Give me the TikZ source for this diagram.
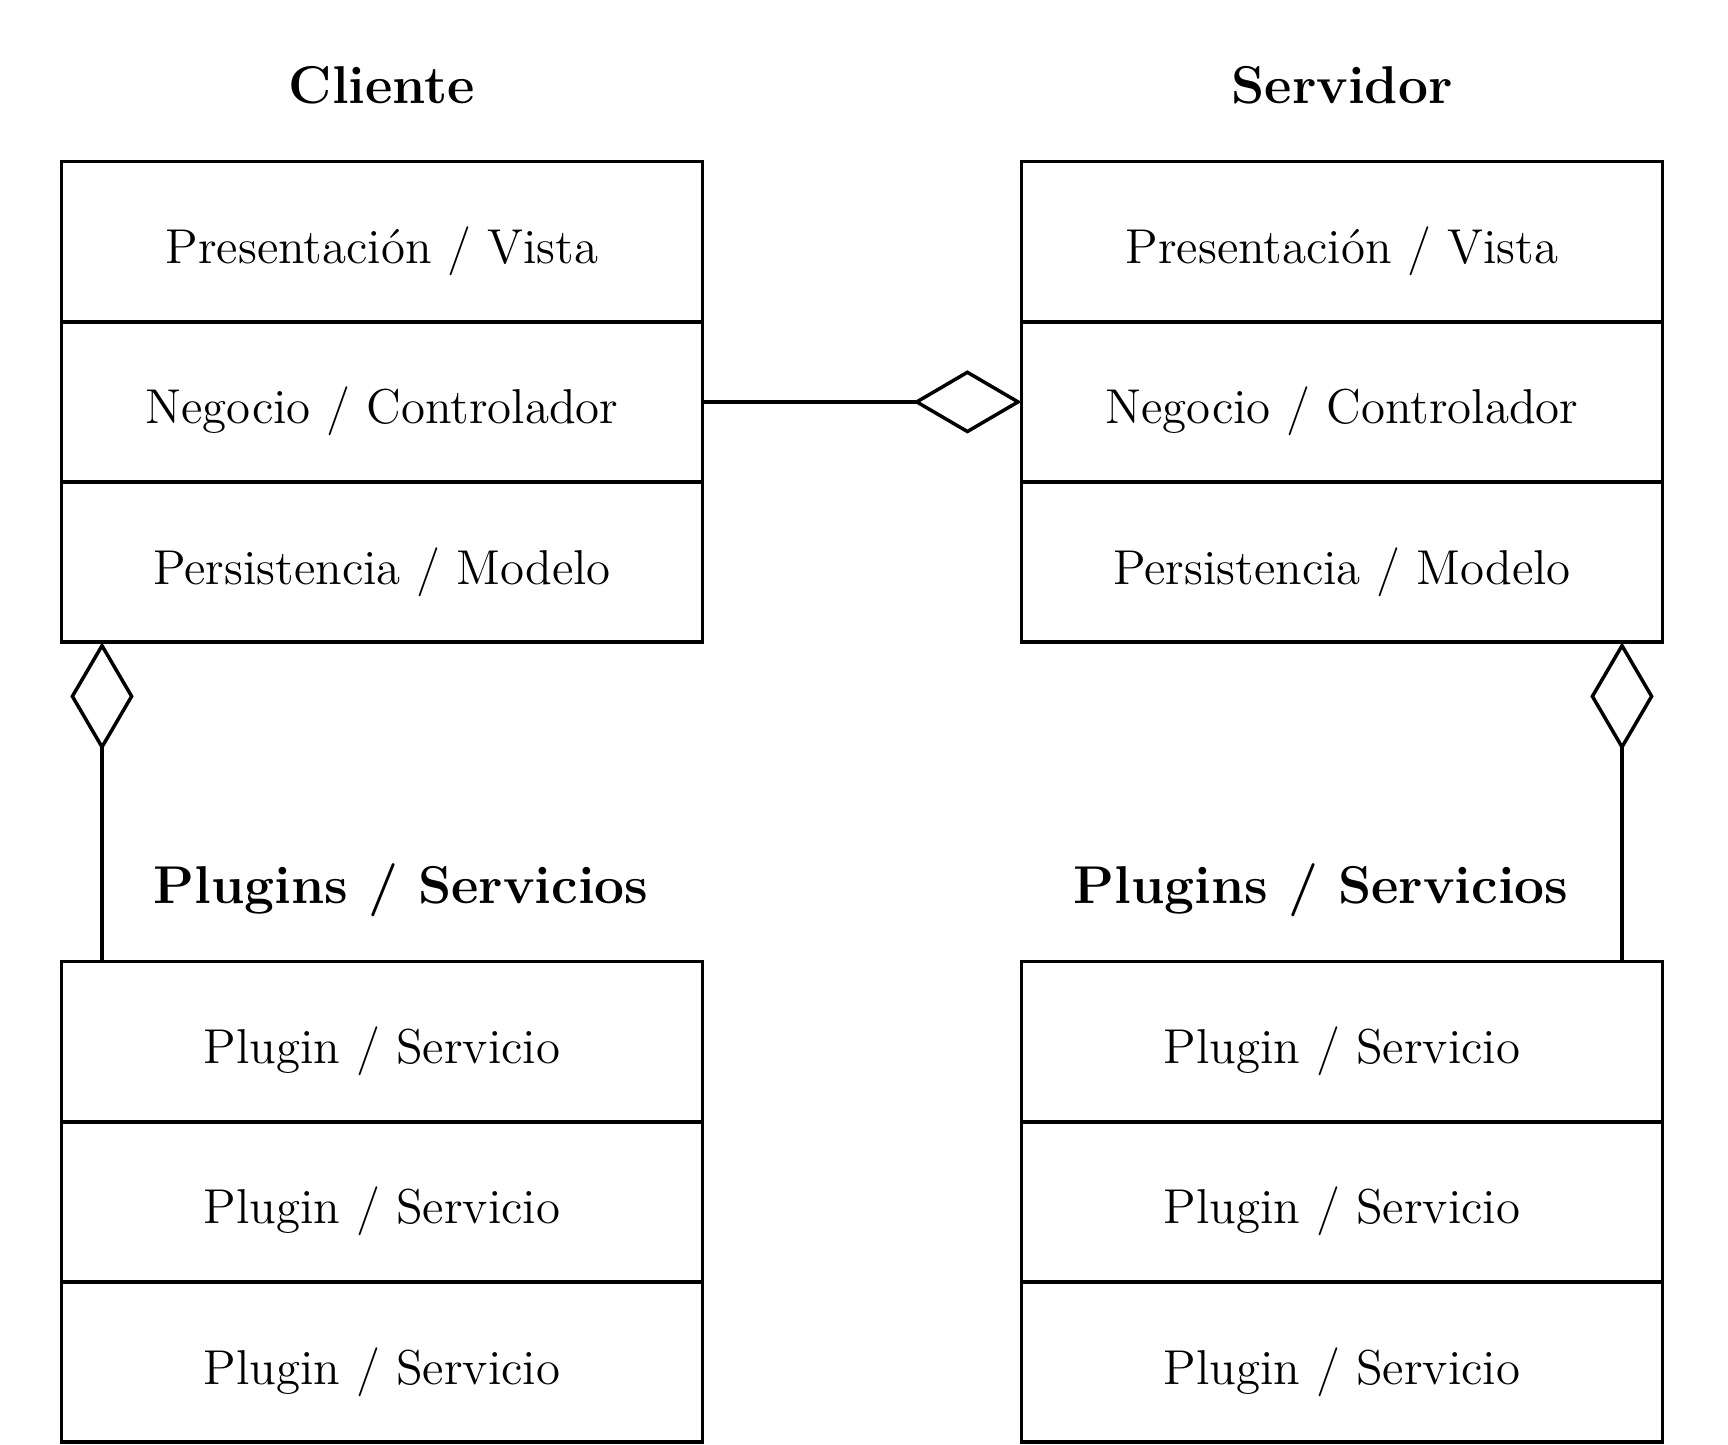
\documentclass[tikz,border=0pt]{standalone}
\usetikzlibrary{arrows.meta}
\begin{document}
\begin{tikzpicture}[x=0.22917pt,y=-0.22917pt,
  rowbox/.style={draw,line width=0.8pt,inner sep=0pt,outer sep=0pt,
    minimum width=146.9pt,minimum height=36.71pt,
    text height=13.3pt,text depth=3.2pt,font=\fontsize{11.22}{13}\selectfont},
  titletext/.style={anchor=base,inner sep=0pt,font=\fontsize{12.2}{14}\selectfont\bfseries},
  aggr/.style={line width=0.8pt,-{Diamond[open,length=24.8pt,width=14.5pt]}}]
\useasboundingbox (0,0) rectangle (1728,1444);
% upper boxes
\node[rowbox] (c1) at (382,241.7) {Presentación / Vista};
\node[rowbox] (c2) at (382,401.9) {Negocio / Controlador};
\node[rowbox] (c3) at (382,562.1) {Persistencia / Modelo};
\node[rowbox] (s1) at (1342,241.7) {Presentación / Vista};
\node[rowbox] (s2) at (1342,401.9) {Negocio / Controlador};
\node[rowbox] (s3) at (1342,562.1) {Persistencia / Modelo};
% lower boxes
\node[rowbox] (p1) at (382,1041.7) {Plugin / Servicio};
\node[rowbox] (p2) at (382,1201.9) {Plugin / Servicio};
\node[rowbox] (p3) at (382,1362.1) {Plugin / Servicio};
\node[rowbox] (q1) at (1342,1041.7) {Plugin / Servicio};
\node[rowbox] (q2) at (1342,1201.9) {Plugin / Servicio};
\node[rowbox] (q3) at (1342,1362.1) {Plugin / Servicio};
% titles
\node[titletext] (tc) at (382,103.6) {Cliente};
\node[titletext] (ts) at (1342,103.6) {Servidor};
\node[titletext] (tp) at (401,903.8) {Plugins / Servicios};
\node[titletext] (tq) at (1321,903.8) {Plugins / Servicios};
% connectors
\coordinate (lx) at (102,0);
\coordinate (rx) at (1622,0);
\draw[aggr] (c2.east) -- (s2.west);
\draw[aggr] (p1.north -| lx) -- (c3.south -| lx);
\draw[aggr] (q1.north -| rx) -- (s3.south -| rx);
\end{tikzpicture}
\end{document}
